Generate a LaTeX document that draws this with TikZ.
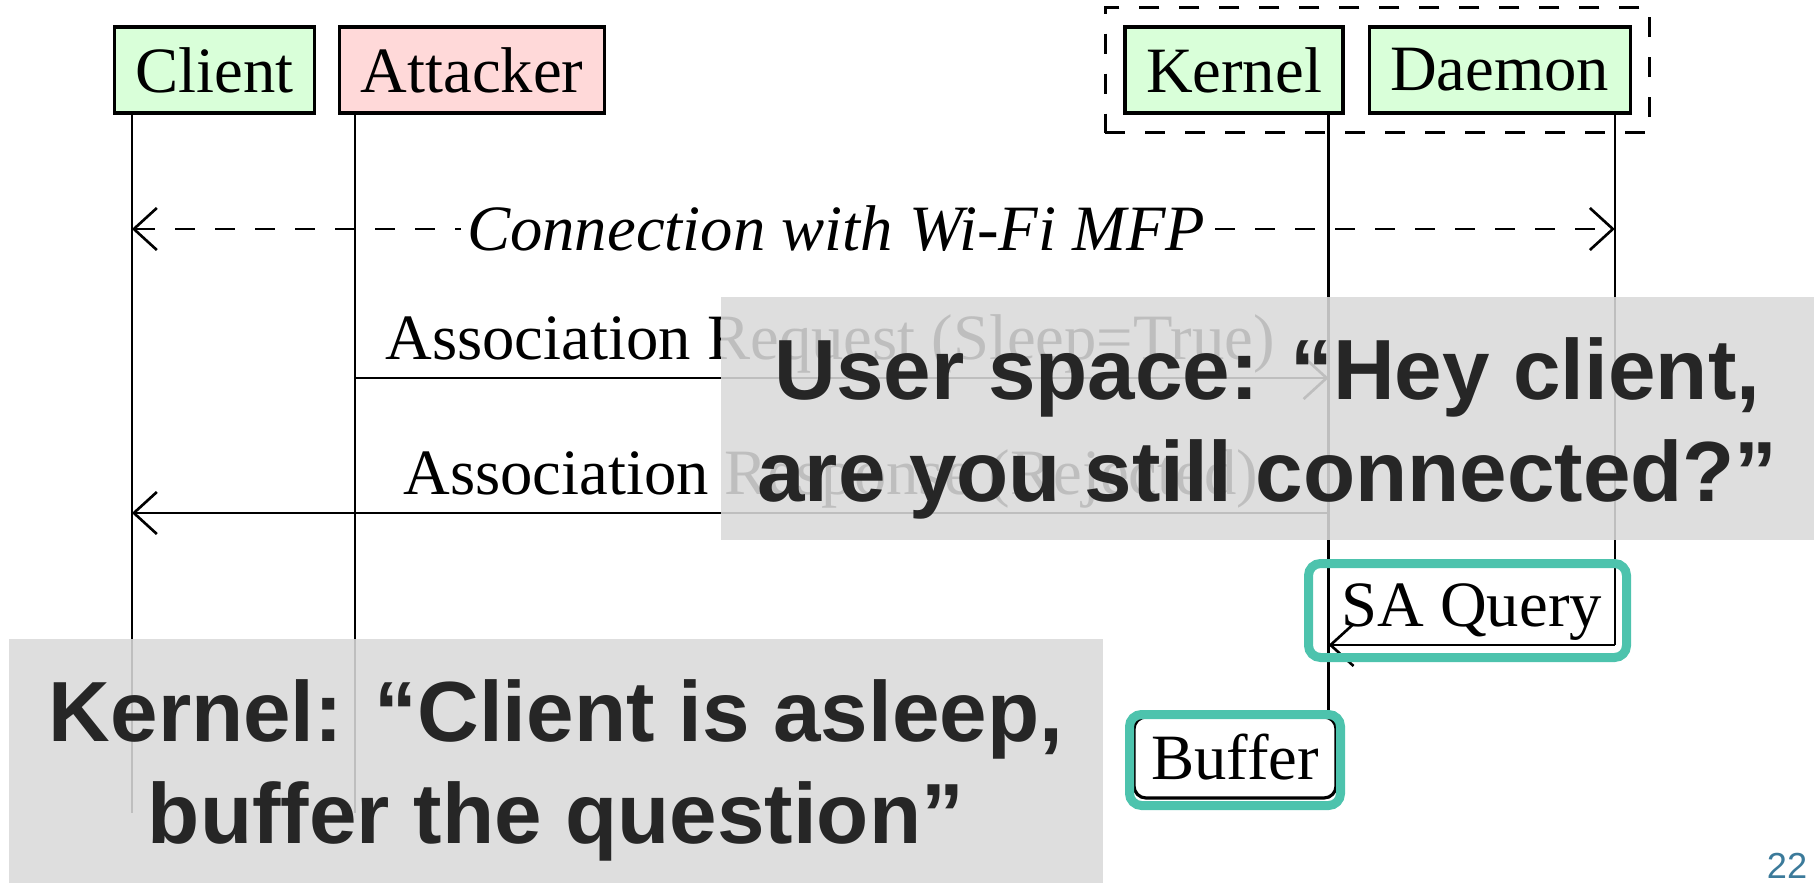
\documentclass[tikz,border=0pt]{standalone}
\usepackage{fontspec}
\setmainfont{Liberation Serif}
\newfontfamily\slidefont{Liberation Sans}
\usepackage{xcolor}
\usepackage{tikz}
\definecolor{clientgreen}{RGB}{217, 255, 217}
\definecolor{attackerred}{RGB}{255, 217, 217}
\definecolor{highlightteal}{RGB}{77, 195, 173}
\definecolor{calloutgray}{RGB}{217, 217, 217}
\definecolor{callouttext}{RGB}{38, 38, 38}
\definecolor{pagenumblue}{RGB}{59, 122, 154}
\usetikzlibrary{arrows.meta, positioning, fit, calc}

\begin{document}
\begin{tikzpicture}[
    actor/.style={rectangle, draw, line width=0.9pt, minimum height=0.86cm, inner xsep=0.21cm, font=\fontsize{18.4}{22}\selectfont},
    lifeline/.style={line width=0.75pt},
    msg/.style={line width=0.75pt, -{Straight Barb[length=0.23cm, width=0.42cm, line width=0.75pt]}},
    msglabel/.style={font=\fontsize{18.4}{22}\selectfont, above=0.01cm, inner sep=0.02cm},
    dashline/.style={dash pattern=on 0.2cm off 0.2cm},
    highlight/.style={draw=highlightteal, line width=0.09cm, rounded corners=0.12cm},
    callout/.style={rectangle, fill=calloutgray, fill opacity=0.88, inner sep=0pt},
    callouttxt/.style={text=callouttext, align=center, font=\slidefont\bfseries\fontsize{24.3}{29}\selectfont}
]
    \useasboundingbox (0,0) rectangle (18.14,8.83);

    % Actors
    \node[actor, fill=clientgreen] (client) at (2.145, 8.13) {Client};
    \node[actor, fill=attackerred, right=0.22cm of client] (attacker) {Attacker};
    \node[actor, fill=clientgreen] (kernel) at (12.34, 8.13) {Kernel};
    \node[actor, fill=clientgreen, right=0.23cm of kernel] (daemon) {Daemon};
    \node[draw, dashline, line width=0.9pt, inner sep=0.18cm, fit=(kernel) (daemon)] (host) {};

    % Lifeline tops and message levels
    \coordinate (c0) at ($(client.south west)+(0.19,0)$);
    \coordinate (a0) at ($(attacker.south west)+(0.17,0)$);
    \coordinate (k0) at ($(kernel.south east)+(-0.16,0)$);
    \coordinate (d0) at ($(daemon.south east)+(-0.17,0)$);
    \coordinate (bottom) at (0, 0.70);
    \coordinate (mfp) at (0, 6.54);
    \coordinate (req) at (0, 5.05);
    \coordinate (resp) at (0, 3.70);
    \coordinate (saq) at (0, 2.38);

    % Buffer
    \node[draw, rounded corners=0.12cm, line width=0.9pt, fill=white, minimum width=2.02cm, minimum height=0.81cm, font=\fontsize{18.4}{22}\selectfont] (buffer) at (12.35, 1.255) {Buffer};

    \draw[lifeline] (c0) -- (c0 |- bottom);
    \draw[lifeline] (a0) -- (a0 |- bottom);
    \draw[lifeline] (k0) -- (k0 |- buffer.north);
    \draw[lifeline] (d0) -- (d0 |- saq);

    % Messages
    \draw[msg, dashline, {Straight Barb[length=0.23cm, width=0.42cm, line width=0.75pt]}-{Straight Barb[length=0.23cm, width=0.42cm, line width=0.75pt]}]
        (c0 |- mfp) -- node[pos=0.475, fill=white, inner sep=0.06cm, font=\itshape\fontsize{18.4}{22}\selectfont] (mfplabel) {Connection with Wi-Fi MFP} (d0 |- mfp);
    \draw[msg] (a0 |- req) -- node[msglabel, pos=0.488] (reqlabel) {Association Request (Sleep=True)} (k0 |- req);
    \draw[msg] (k0 |- resp) -- node[msglabel, pos=0.416] (resplabel) {Association Response (Rejected)} (c0 |- resp);
    \draw[msg] (d0 |- saq) -- node[msglabel, midway] (saqlabel) {SA Query} (k0 |- saq);

    % Highlights
    \draw[highlight] (13.085, 2.255) rectangle (16.265, 3.195);
    \draw[highlight] (11.295, 0.775) rectangle (13.405, 1.685);

    % Callouts
    \node[callout, minimum width=10.93cm, minimum height=2.43cm] (userspace) at (12.675, 4.645) {};
    \node[callouttxt] (userspacetxt) at (12.675, 4.55) {User space: “Hey client,\\are you still connected?”};
    \node[callout, minimum width=10.94cm, minimum height=2.44cm] (kernelnote) at (5.56, 1.22) {};
    \node[callouttxt] (kernelnotetxt) at (5.56, 1.125) {Kernel: “Client is asleep,\\buffer the question”};

    \node[font=\slidefont\fontsize{10.3}{12}\selectfont, text=pagenumblue] (pagenum) at (17.87, 0.17) {22};

\end{tikzpicture}
\end{document}
